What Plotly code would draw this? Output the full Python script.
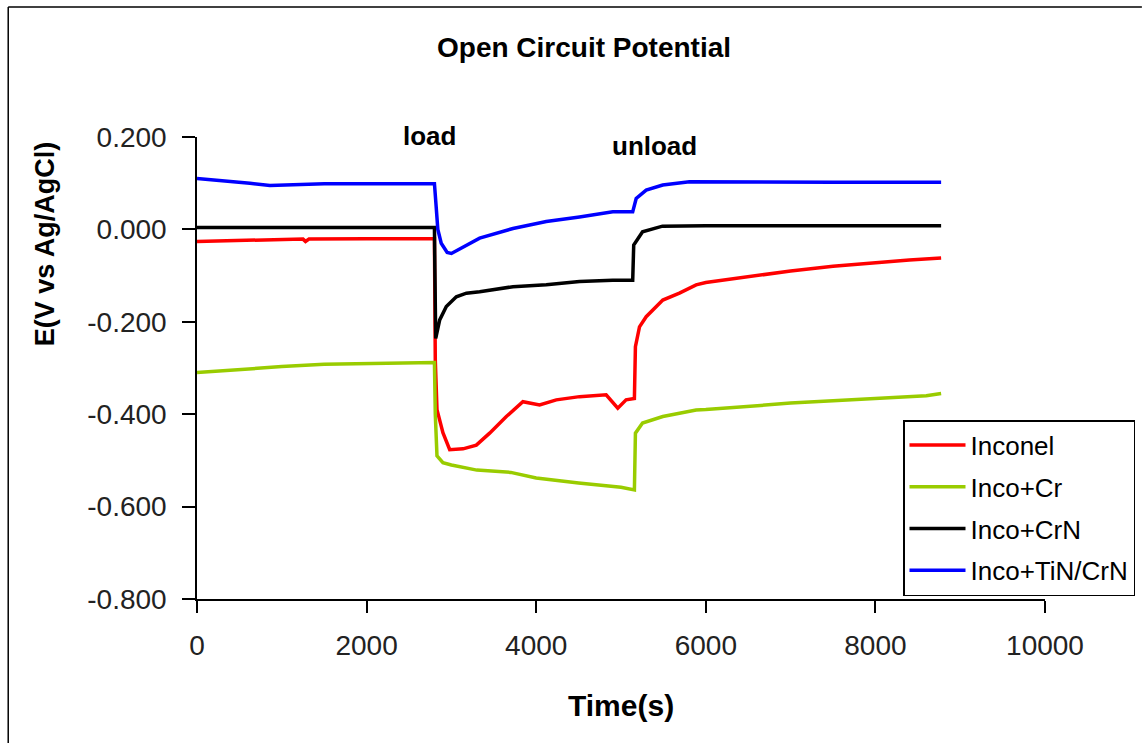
import plotly.graph_objects as go

# ---- data ----
inconel_t = [0, 500, 1000, 1250, 1280, 1320, 2000, 2800, 2810, 2830, 2900, 2980, 3137, 3294, 3451, 3648, 3843,
             4040, 4237, 4511, 4825, 4962, 5060, 5158, 5170, 5218, 5297, 5493, 5689, 5886, 6000, 6500,
             7000, 7500, 8000, 8400, 8775]
inconel_e = [-0.026, -0.024, -0.022, -0.021, -0.026, -0.021, -0.020, -0.020, -0.283, -0.390, -0.440, -0.477, -0.475,
             -0.467, -0.441, -0.405, -0.373, -0.380, -0.369, -0.362, -0.358, -0.387, -0.369, -0.366, -0.254,
             -0.211, -0.189, -0.153, -0.138, -0.120, -0.115, -0.102, -0.090, -0.080, -0.072, -0.066, -0.062]

incocr_t = [0, 500, 1000, 1500, 2000, 2800, 2810, 2830, 2900, 3000, 3300, 3700, 4000, 4500, 5000, 5158,
            5170, 5254, 5493, 5886, 6000, 6500, 7000, 7500, 8000, 8600, 8775]
incocr_e = [-0.310, -0.303, -0.297, -0.292, -0.290, -0.288, -0.400, -0.490, -0.505, -0.510, -0.521, -0.526,
            -0.538, -0.549, -0.558, -0.564, -0.441, -0.419, -0.405, -0.391, -0.390, -0.383, -0.376, -0.371,
            -0.366, -0.360, -0.355]

incocrn_t = [0, 1000, 2000, 2800, 2805, 2815, 2862, 2940, 3058, 3177, 3333, 3726, 4119, 4511, 4903, 5138,
             5150, 5254, 5489, 6000, 7000, 8000, 8775]
incocrn_e = [0.004, 0.004, 0.004, 0.004, -0.085, -0.236, -0.196, -0.167, -0.146, -0.138, -0.135, -0.124,
             -0.120, -0.113, -0.110, -0.110, -0.034, -0.005, 0.007, 0.008, 0.008, 0.008, 0.008]

incotin_t = [0, 150, 389, 624, 860, 1500, 2000, 2800, 2820, 2840, 2880, 2950, 3000, 3333, 3726, 4119, 4511,
             4903, 5138, 5179, 5297, 5492, 5807, 6500, 7500, 8775]
incotin_e = [0.110, 0.108, 0.103, 0.100, 0.095, 0.099, 0.099, 0.099, 0.050, 0.000, -0.030, -0.050, -0.052,
             -0.019, 0.002, 0.017, 0.027, 0.038, 0.038, 0.067, 0.085, 0.096, 0.103, 0.102, 0.102, 0.102]

series_names = ["Inconel", "Inco+Cr", "Inco+CrN", "Inco+TiN/CrN"]
series_colors = ["#FF0000", "#99CC00", "#000000", "#0000FF"]

x_tick_vals = [0, 2000, 4000, 6000, 8000, 10000]
x_tick_text = ["0", "2000", "4000", "6000", "8000", "10000"]
y_tick_vals = [0.2, 0.0, -0.2, -0.4, -0.6, -0.8]
y_tick_text = ["0.200", "0.000", "-0.200", "-0.400", "-0.600", "-0.800"]

FONT = "Liberation Sans, Arial, sans-serif"

fig = go.Figure()
for i, (t, e) in enumerate([(inconel_t, inconel_e), (incocr_t, incocr_e),
                            (incocrn_t, incocrn_e), (incotin_t, incotin_e)]):
    fig.add_trace(go.Scatter(x=t, y=e, mode="lines", name=series_names[i],
                             legendgroup=series_names[i],
                             line=dict(color=series_colors[i], width=3.5)))

W, H = 1146, 744
ml, mr, mt, mb = 197, 100, 137, 145
pw, ph = W - ml - mr, H - mt - mb

fig.update_layout(
    width=W, height=H,
    margin=dict(l=ml, r=mr, t=mt, b=mb),
    paper_bgcolor="white", plot_bgcolor="white",
    showlegend=True,
    legend=dict(x=(903 - ml) / pw, y=(H - mb - 420) / ph, xanchor="left", yanchor="top",
                bgcolor="white", bordercolor="black", borderwidth=1.5,
                font=dict(family=FONT, size=26, color="black"),
                traceorder="grouped", tracegroupgap=5, itemwidth=56),
    xaxis=dict(range=[0, 10000], tickvals=x_tick_vals, ticktext=x_tick_text,
               showgrid=False, zeroline=False, showline=True, linecolor="black", linewidth=1.5,
               ticks="outside", ticklen=12, tickcolor="black", tickwidth=1.5,
               tickfont=dict(family=FONT, size=28, color="#222"), ticklabelstandoff=9),
    yaxis=dict(range=[-0.8, 0.2], tickvals=y_tick_vals, ticktext=y_tick_text,
               showgrid=False, zeroline=False, showline=True, linecolor="black", linewidth=1.5,
               ticks="outside", ticklen=13, tickcolor="black", tickwidth=1.5,
               tickfont=dict(family=FONT, size=28, color="#222"), ticklabelstandoff=10),
    font=dict(family=FONT, color="black"),
)

def px2paper_x(px):
    return (px - ml) / pw

def px2paper_y(py):
    return (H - mb - py) / ph

# outer frame: only left and top edges are visible in the reference
fig.add_shape(type="line", xref="paper", yref="paper",
              x0=px2paper_x(8), x1=px2paper_x(8), y0=px2paper_y(H - 1), y1=px2paper_y(7),
              line=dict(color="black", width=1.5), layer="below")
fig.add_shape(type="line", xref="paper", yref="paper",
              x0=px2paper_x(8), x1=px2paper_x(W - 3), y0=px2paper_y(7), y1=px2paper_y(7),
              line=dict(color="black", width=1.5), layer="below")

annos = [
    dict(text="<b>Open Circuit Potential</b>", x=px2paper_x(584), y=px2paper_y(48), size=28),
    dict(text="<b>Time(s)</b>", x=px2paper_x(622), y=px2paper_y(705), size=30),
    dict(text="<b>load</b>", x=px2paper_x(430), y=px2paper_y(136), size=26),
    dict(text="<b>unload</b>", x=px2paper_x(655), y=px2paper_y(146), size=26),
]
for a in annos:
    fig.add_annotation(text=a["text"], x=a["x"], y=a["y"], xref="paper", yref="paper",
                       showarrow=False, xanchor="center", yanchor="middle",
                       font=dict(family=FONT, size=a["size"], color="black"))
fig.add_annotation(text="<b>E(V vs Ag/AgCl)</b>", x=px2paper_x(45), y=px2paper_y(244),
                   xref="paper", yref="paper", showarrow=False, textangle=-90,
                   xanchor="center", yanchor="middle",
                   font=dict(family=FONT, size=27, color="black"))

fig.write_html("out.html")
